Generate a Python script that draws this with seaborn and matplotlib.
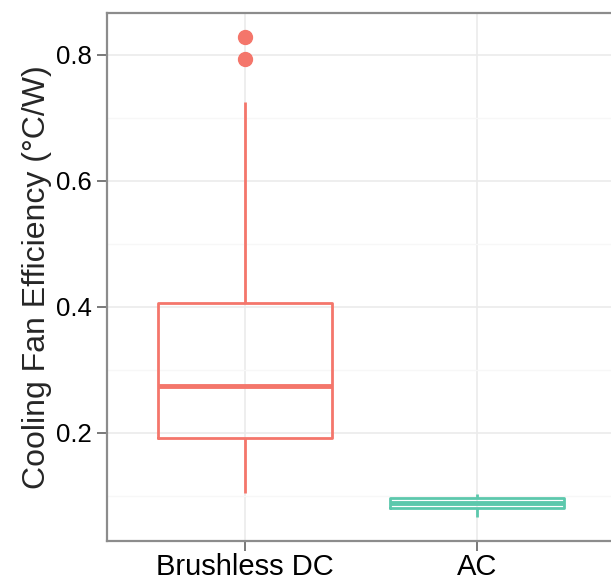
import matplotlib
matplotlib.use("Agg")
import matplotlib.pyplot as plt
import seaborn as sns
import pandas as pd

# Five-number summaries
categories = ["Brushless DC", "AC"]
whisker_low = [0.105, 0.067]
q1 = [0.192, 0.081]
median = [0.275, 0.089]
q3 = [0.406, 0.097]
whisker_high = [0.725, 0.103]
outliers = [[0.794, 0.829], []]
colors = ["#F4766B", "#5CC8AC"]
y_label = "Cooling Fan Efficiency (°C/W)"

# Build a minimal sample per group whose quartiles equal the read summaries
rows = []
for i, cat in enumerate(categories):
    k = max(2, len(outliers[i]) + 1)
    vals = ([whisker_low[i]] + [q1[i]] * k + [median[i]] * k + [q3[i]] * k
            + [whisker_high[i]] * (k - len(outliers[i])) + list(outliers[i]))
    rows += [(cat, v) for v in vals]
df = pd.DataFrame(rows, columns=["type", "value"])

sns.set_theme(style="white")
plt.rcParams["font.family"] = ["Liberation Sans", "DejaVu Sans"]

fig = plt.figure(figsize=(6.11, 5.81), dpi=100)
ax = fig.add_axes([0.175, 0.069, 0.9, 0.909])

sns.boxplot(data=df, x="type", y="value", hue="type", order=categories,
            hue_order=categories, palette=colors, fill=False, width=0.75,
            linewidth=2, showcaps=False, legend=False, ax=ax,
            medianprops=dict(linewidth=3.5),
            flierprops=dict(marker="o", markersize=10))

for ln in ax.lines:
    if ln.get_marker() == "o":
        c = ln.get_markeredgecolor()
        ln.set_markerfacecolor(c)
        ln.set_markeredgecolor(c)
        ln.set_markersize(10)

ax.set_ylim(0.0286, 0.867)
ax.set_xlim(-0.595, 1.776)
ax.set_yticks([0.2, 0.4, 0.6, 0.8])
ax.set_yticklabels(["0.2", "0.4", "0.6", "0.8"])
ax.set_yticks([0.1, 0.3, 0.5, 0.7], minor=True)
ax.grid(True, which="major", color="#EBEBEB", linewidth=1.2)
ax.grid(True, which="minor", axis="y", color="#F7F7F7", linewidth=1.0)
ax.set_axisbelow(True)

for s in ax.spines.values():
    s.set_color("#8C8C8C")
    s.set_linewidth(1.6)

ax.tick_params(axis="both", which="major", direction="out", length=7,
               width=1.3, color="#6E6E6E", labelcolor="black", bottom=True,
               left=True)
ax.tick_params(axis="y", which="major", labelsize=18.5, pad=4)
ax.tick_params(axis="x", which="major", labelsize=21, pad=1.5)
ax.tick_params(which="minor", length=0)

ax.set_xlabel("")
ax.set_ylabel(y_label, fontsize=23, labelpad=3)

fig.savefig("out.png", dpi=100)
